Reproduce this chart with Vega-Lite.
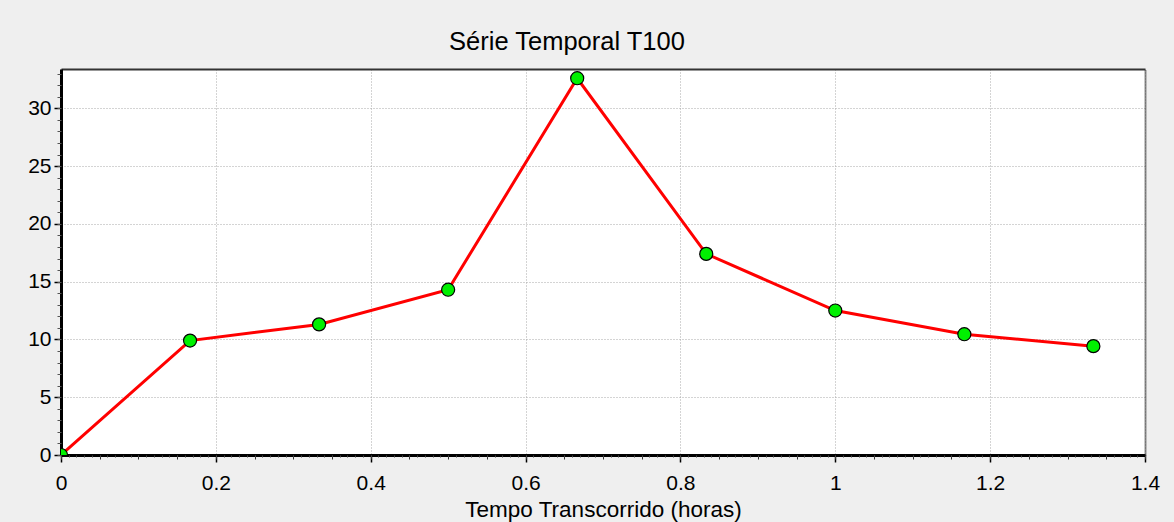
{
  "$schema": "https://vega.github.io/schema/vega-lite/v6.json",
  "width": 1084,
  "height": 386,
  "autosize": {"type": "none"},
  "padding": {"left": 61, "top": 69, "right": 29, "bottom": 67},
  "background": "#efefef",
  "title": {
    "text": "Série Temporal T100",
    "font": "Liberation Sans",
    "fontSize": 25.5,
    "fontWeight": "normal",
    "color": "#000000",
    "anchor": "middle",
    "dx": -36,
    "dy": 23,
    "offset": 17,
    "baseline": "alphabetic"
  },
  "config": {
    "view": {"fill": "#ffffff", "stroke": null},
    "axis": {
      "labelFont": "Liberation Sans",
      "titleFont": "Liberation Sans",
      "labelColor": "#000000",
      "titleColor": "#000000",
      "tickColor": "#000000",
      "domainColor": "#000000"
    }
  },
  "data": {
    "values": [
      {"t": 0, "v": 0},
      {"t": 0.16667, "v": 9.9},
      {"t": 0.33333, "v": 11.3},
      {"t": 0.5, "v": 14.3},
      {"t": 0.66667, "v": 32.6},
      {"t": 0.83333, "v": 17.4},
      {"t": 1.0, "v": 12.5},
      {"t": 1.16667, "v": 10.45},
      {"t": 1.33333, "v": 9.42}
    ]
  },
  "resolve": {"axis": {"x": "independent", "y": "independent"}},
  "layer": [
    {
      "mark": {"type": "line", "color": "#ff0000", "strokeWidth": 3, "clip": true},
      "encoding": {
        "x": {
          "field": "t", "type": "quantitative",
          "scale": {"domain": [0, 1.4], "nice": false, "zero": false},
          "axis": {
            "orient": "bottom",
            "values": [0, 0.2, 0.4, 0.6, 0.8, 1, 1.2, 1.4],
            "format": "~g",
            "title": "Tempo Transcorrido (horas)",
            "titleFontSize": 22.5,
            "titleFontWeight": "normal",
            "titlePadding": 5,
            "labelFontSize": 21,
            "labelPadding": 10,
            "labelFlush": false,
            "tickSize": 7,
            "tickWidth": 1.5,
            "domainWidth": 3,
            "grid": true,
            "gridColor": "#a8a8a8",
            "gridDash": [1, 2],
            "gridWidth": 1
          }
        },
        "y": {
          "field": "v", "type": "quantitative",
          "scale": {"domain": [0, 33.4], "nice": false, "zero": false},
          "axis": {
            "orient": "left",
            "values": [0, 5, 10, 15, 20, 25, 30],
            "title": null,
            "labelFontSize": 21,
            "labelPadding": 3,
            "labelFlush": false,
            "tickSize": 7,
            "tickWidth": 1.5,
            "domainWidth": 3,
            "grid": true,
            "gridColor": "#a8a8a8",
            "gridDash": [1, 2],
            "gridWidth": 1
          }
        }
      }
    },
    {
      "mark": {"type": "point", "shape": "circle", "filled": true, "fill": "#00f000", "stroke": "#000000", "strokeWidth": 1.2, "size": 170, "opacity": 1, "clip": true},
      "encoding": {
        "x": {
          "field": "t", "type": "quantitative",
          "axis": {
            "orient": "bottom", "tickCount": 28, "labels": false, "domain": false,
            "grid": false, "title": null, "tickSize": 4, "tickWidth": 1, "tickColor": "#333333"
          }
        },
        "y": {
          "field": "v", "type": "quantitative",
          "axis": {
            "orient": "left", "tickCount": 33, "labels": false, "domain": false,
            "grid": false, "title": null, "tickSize": 4, "tickWidth": 1, "tickColor": "#555555"
          }
        }
      }
    },
    {
      "mark": {"type": "line", "opacity": 0},
      "encoding": {
        "x": {
          "field": "t", "type": "quantitative",
          "axis": {
            "orient": "bottom", "tickCount": 140, "labels": false, "domain": false,
            "grid": false, "title": null, "tickSize": 2, "tickWidth": 1, "tickColor": "#444444"
          }
        },
        "y": {
          "field": "v", "type": "quantitative",
          "axis": {
            "orient": "right", "labels": false, "ticks": false, "grid": false, "title": null,
            "domain": true, "domainWidth": 2, "domainDash": [1, 1], "domainColor": "#222222"
          }
        }
      }
    },
    {
      "mark": {"type": "line", "opacity": 0},
      "encoding": {
        "x": {
          "field": "t", "type": "quantitative",
          "axis": {
            "orient": "top", "labels": false, "ticks": false, "grid": false, "title": null,
            "domain": true, "domainWidth": 2, "domainColor": "#333333"
          }
        },
        "y": {"field": "v", "type": "quantitative", "axis": null}
      }
    }
  ]
}
